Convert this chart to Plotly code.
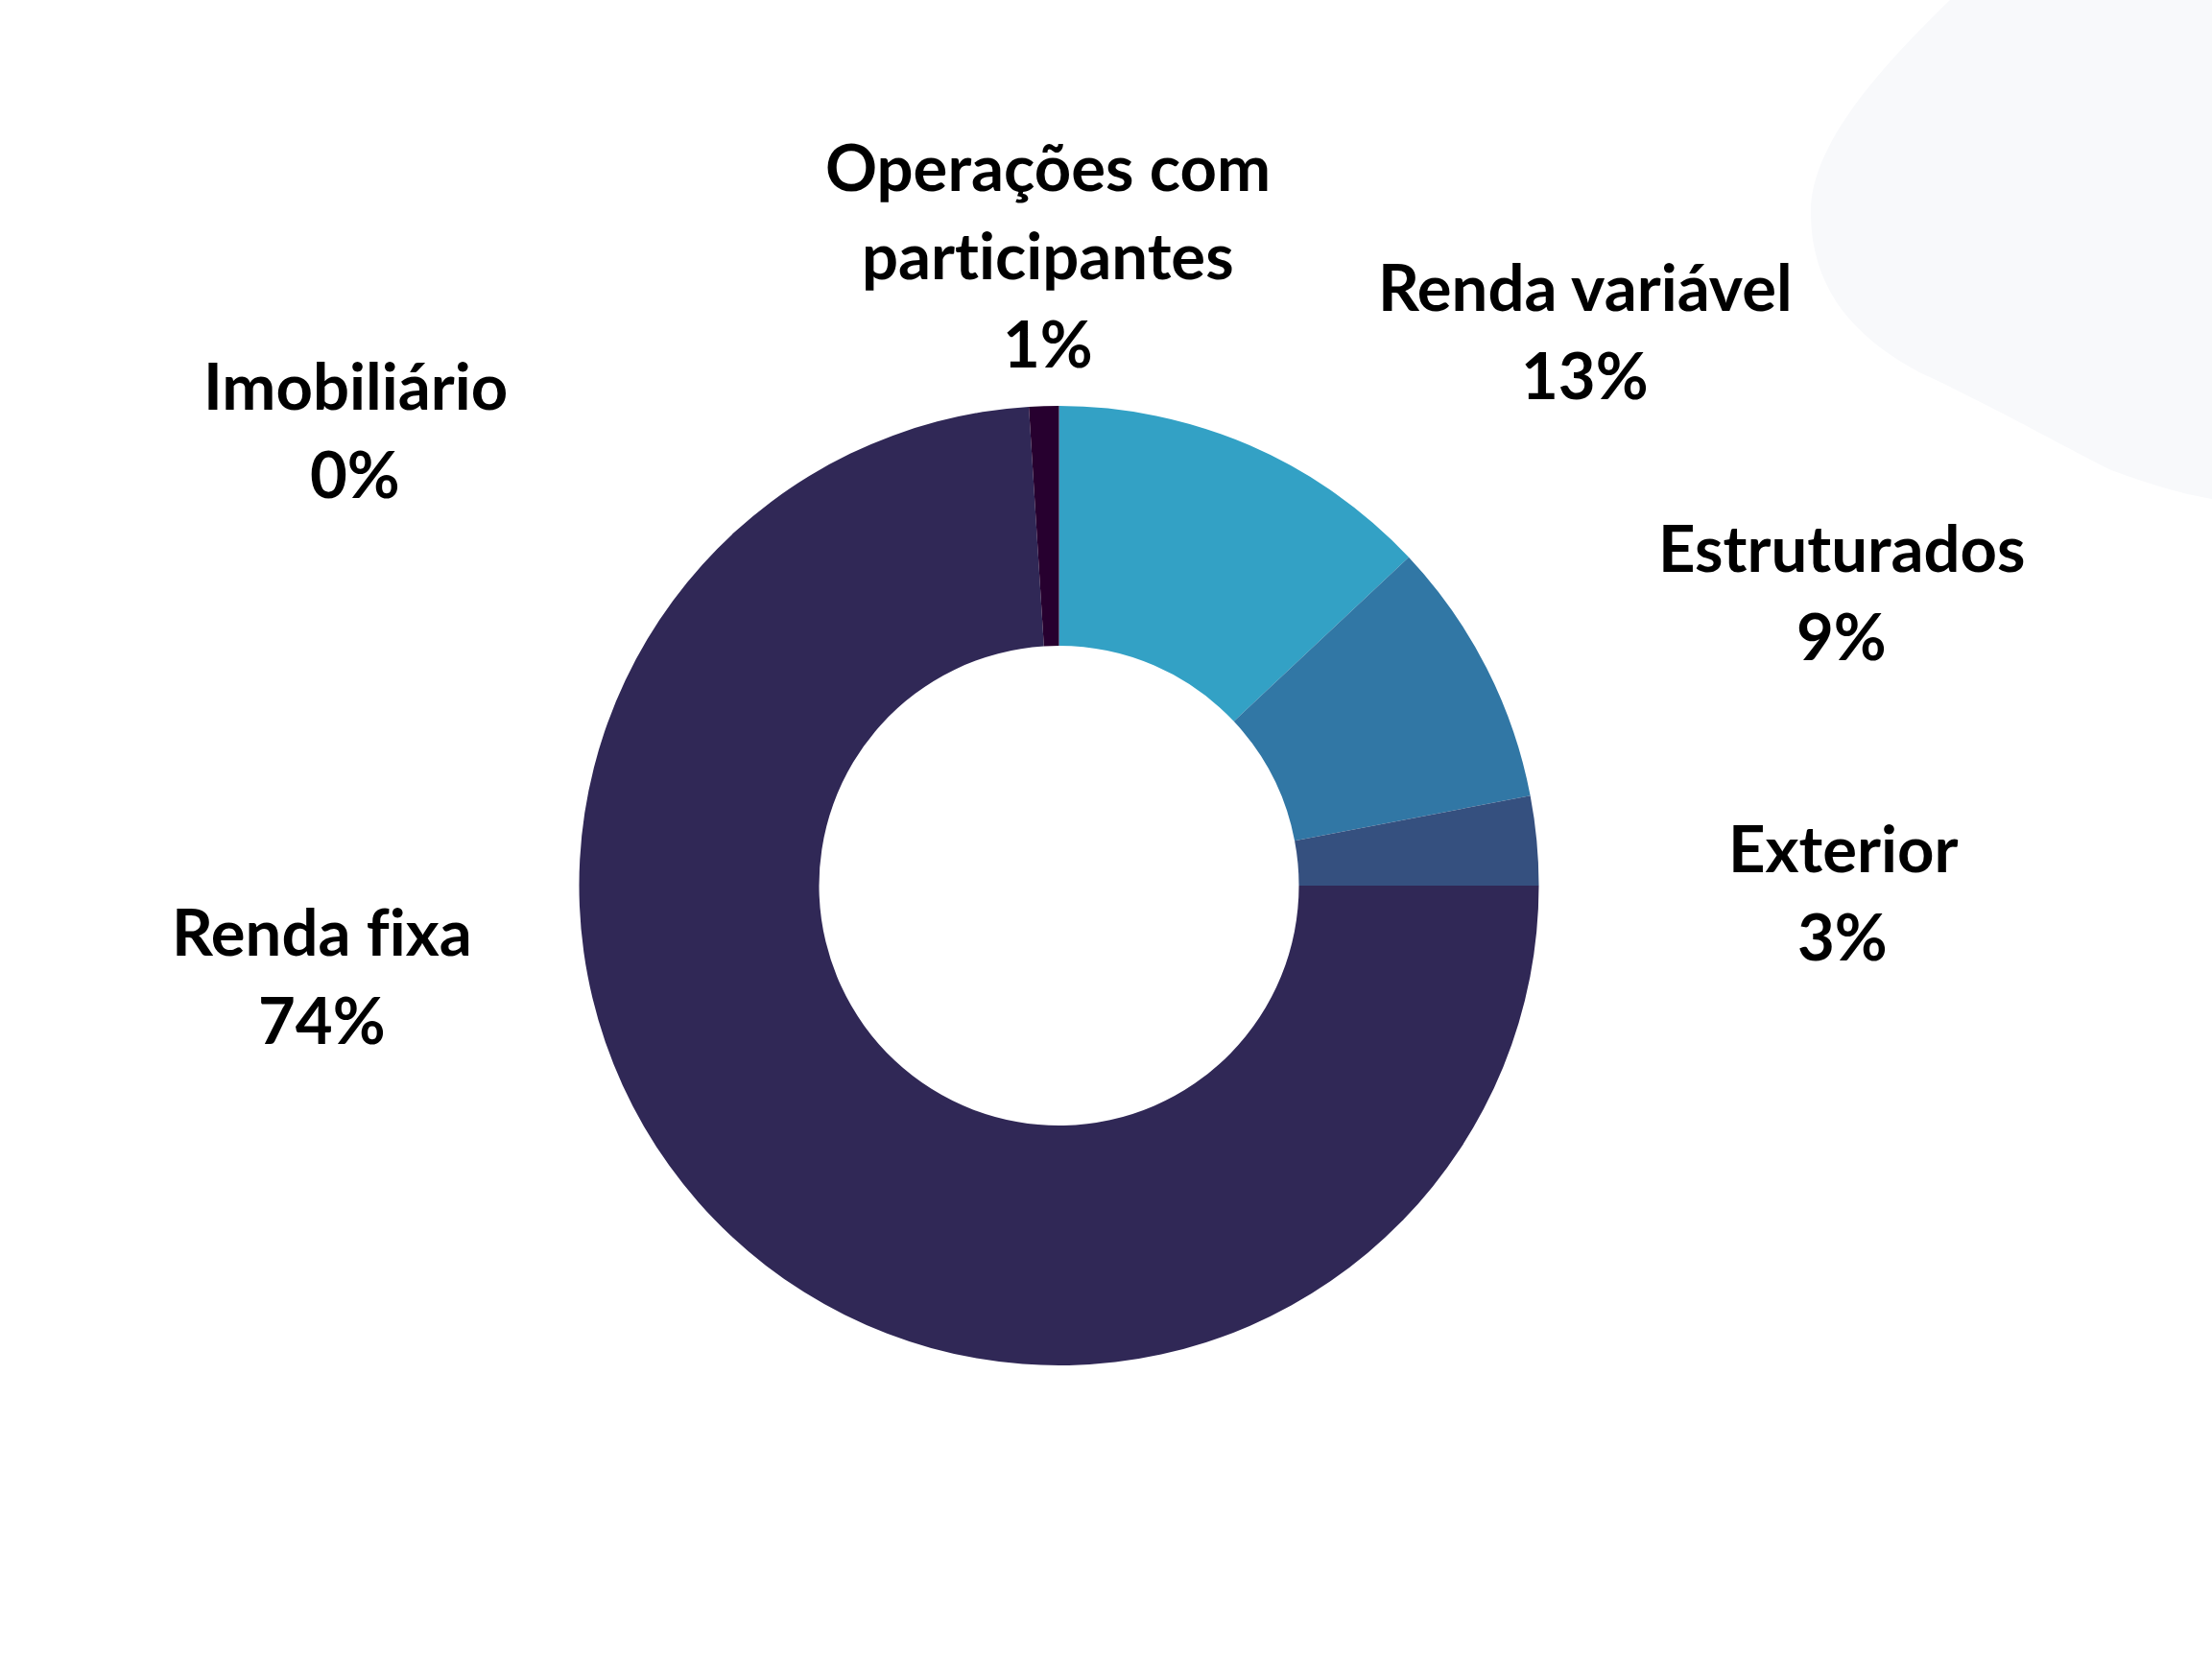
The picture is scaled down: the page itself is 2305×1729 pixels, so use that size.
import plotly.graph_objects as go

# data
categories = ["Renda variável", "Estruturados", "Exterior", "Renda fixa",
              "Imobiliário", "Operações com participantes"]
shares = [13.0, 9.0, 3.0, 74.0, 0.0, 1.0]
colors = ["#33A1C5", "#3177A5", "#35507F", "#302856", "#1C1540", "#27002F"]

W, H = 2305, 1729

# label text lines (zero-width non-joiner keeps Lato from using fi / ti ligatures)
label_lines = {
    "Renda variável": ["Renda variável"],
    "Estruturados": ["Estruturados"],
    "Exterior": ["Exterior"],
    "Renda fixa": ["Renda f\u200cixa"],
    "Imobiliário": ["Imobiliário"],
    "Operações com participantes": ["Operações com", "part\u200cicipantes"],
}
# pixel x centre, first baseline y
label_pos = {
    "Renda variável": (1652, 322),
    "Estruturados": (1919, 594),
    "Exterior": (1920, 907),
    "Renda fixa": (335, 994),
    "Imobiliário": (370, 425),
    "Operações com participantes": (1092, 197),
}
line_gap = 92
font_size = 67


def px(x, y):
    return x / W, 1 - y / H


fig = go.Figure()

fig.add_trace(go.Pie(
    labels=categories,
    values=shares,
    hole=0.5,
    sort=False,
    direction="clockwise",
    rotation=0,
    marker=dict(colors=colors, line=dict(width=0)),
    textinfo="none",
    hoverinfo="label+percent",
    showlegend=False,
    domain=dict(x=[603 / W, 1604 / W], y=[1 - 1423 / H, 1 - 423 / H]),
))

total = sum(shares)
annotations = []
for cat, val in zip(categories, shares):
    lines = label_lines[cat] + ["%d%%" % round(val / total * 100)]
    x0, base0 = label_pos[cat]
    for i, line in enumerate(lines):
        xp, yp = px(x0, base0 + i * line_gap - 24)
        annotations.append(dict(
            x=xp, y=yp, xref="paper", yref="paper",
            text=line, showarrow=False,
            xanchor="center", yanchor="middle",
            font=dict(family="Lato", size=font_size, color="#000000", weight="bold"),
        ))

# faint background blob at top right
blob = [(2032, 0), (1960, 70), (1887, 150), (1887, 221),
        (1887, 300), (1930, 350), (2000, 388),
        (2070, 420), (2150, 465), (2200, 490),
        (2240, 505), (2275, 515), (2305, 520)]
pts = [px(x, y) for x, y in blob]
path = "M %f,%f" % pts[0]
for i in range(1, len(pts), 3):
    path += " C %f,%f %f,%f %f,%f" % (pts[i] + pts[i + 1] + pts[i + 2])
path += " L %f,%f L %f,%f Z" % (px(2305, 0) + px(2032, 0))

fig.update_layout(
    width=W, height=H,
    margin=dict(l=0, r=0, t=0, b=0),
    paper_bgcolor="white",
    plot_bgcolor="white",
    annotations=annotations,
    shapes=[dict(type="path", path=path, xref="paper", yref="paper",
                 fillcolor="#F8F9FB", line=dict(width=0), layer="below")],
)

fig.write_html("out.html",
               config={"displayModeBar": False},
               post_script="document.body.style.margin='0';"
                           "document.body.style.overflow='hidden';")
